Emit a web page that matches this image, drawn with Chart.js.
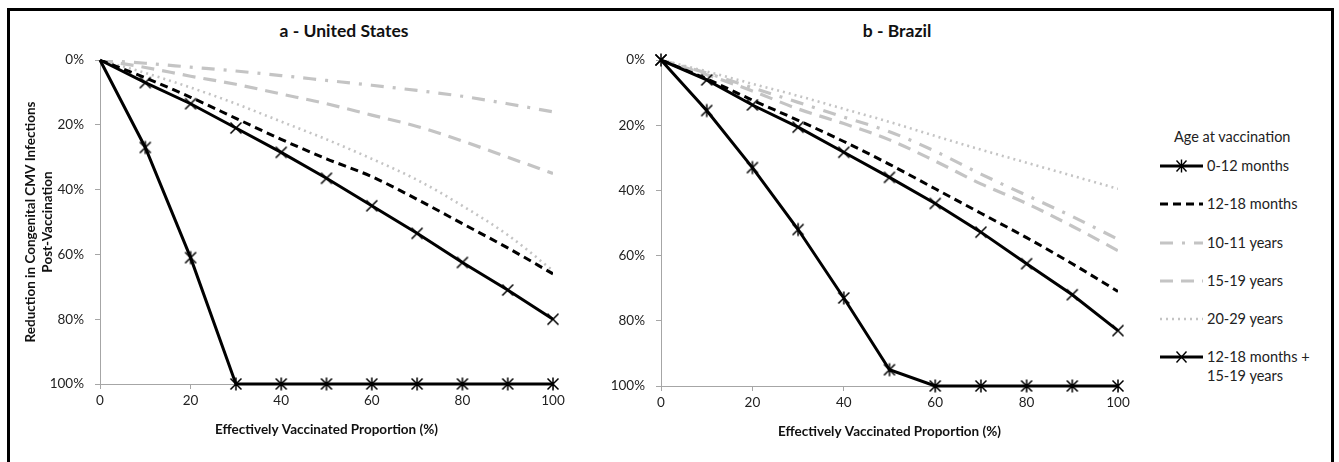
<!DOCTYPE html>
<html>
<head>
<meta charset="utf-8">
<script src="https://cdn.jsdelivr.net/npm/chart.js@4.4.1/dist/chart.umd.min.js"></script>
<style>
  body { margin: 0; background: #fff; font-family: Lato, "Open Sans", sans-serif; }
  #page { position: relative; width: 1339px; height: 462px; overflow: hidden; }
  #frame { position: absolute; left: 7px; top: 8px; width: 1327px; height: 480px; border: 3px solid #000; box-sizing: border-box; }
  .ttl { position: absolute; top: 20px; font-weight: bold; font-size: 17.5px; color: #111; transform: translateX(-50%); white-space: nowrap; }
  canvas { position: absolute; }
  #legend { position: absolute; left: 1160px; top: 128px; font-size: 14.5px; color: #222; }
  .lg-title { position: absolute; left: 14px; top: 0; white-space: nowrap; }
  .lg-item { position: absolute; left: 0; white-space: nowrap; height: 20px; }
  .lg-item svg { position: absolute; left: 0; top: 0; }
  .lg-item span { position: absolute; left: 47px; top: 0px; line-height: 19px; }
</style>
</head>
<body>
<div id="page">
  <div id="frame"></div>
  <div class="ttl" style="left:344px">a - United States</div>
  <div class="ttl" style="left:897px">b - Brazil</div>
  <canvas id="chartUS" width="568" height="438" style="left:12px;top:12px"></canvas>
  <canvas id="chartBR" width="540" height="438" style="left:600px;top:12px"></canvas>
  <div id="legend"></div>
</div>
<script>
let proportion = [0, 10, 20, 30, 40, 50, 60, 70, 80, 90, 100]
let xTicks = [0, 20, 40, 60, 80, 100]
let yTicks = [0, 20, 40, 60, 80, 100]

let seriesNames = ['0-12 months', '12-18 months', '10-11 years', '15-19 years', '20-29 years', '12-18 months + 15-19 years']

// United States, % reduction
let us0to12 = [0, 27, 61, 100, 100, 100, 100, 100, 100, 100, 100]
let us12to18 = [0, 5.5, 11.5, 18, 24.5, 30.5, 36, 43, 50.5, 58, 66]
let us10to11 = [0, 1, 2.2, 3.4, 4.8, 6.3, 7.8, 9.4, 11.2, 13.5, 16]
let us15to19 = [0, 2.3, 5, 7.5, 10.5, 13.5, 17, 20.5, 25, 30, 35]
let us20to29 = [0, 4, 8.5, 13.5, 19, 24.5, 30.5, 37, 45, 54, 65]
let usCombo = [0, 7, 13.5, 21, 28.5, 36.5, 45, 53.5, 62.5, 71, 80]

// Brazil, % reduction
let br0to12 = [0, 15.5, 33, 52, 73, 95, 100, 100, 100, 100, 100]
let br12to18 = [0, 5.8, 12.3, 18.5, 25, 32, 39.5, 47, 54.5, 62.5, 71]
let br10to11 = [0, 4, 8.5, 13, 17.5, 22, 28, 35, 41.5, 48, 55]
let br15to19 = [0, 4.5, 9.5, 15, 19.5, 24.5, 31, 38, 44, 51, 58.5]
let br20to29 = [0, 3.5, 7.3, 11, 15, 19, 23.3, 27.5, 31.5, 35.5, 39.5]
let brCombo = [0, 6.1, 13.8, 20.6, 28.3, 36, 44, 52.8, 62.5, 72, 83]

const GREY = '#c4c4c4'
const AXIS = '#a6a6a6'
const FONT = 'Lato, "Open Sans", sans-serif'

function makeMarker(star) {
    let c = document.createElement('canvas')
    c.width = 16
    c.height = 16
    let g = c.getContext('2d')
    g.strokeStyle = '#000'
    g.lineWidth = 1.5
    g.beginPath()
    g.moveTo(2.5, 2.5); g.lineTo(13.5, 13.5)
    g.moveTo(13.5, 2.5); g.lineTo(2.5, 13.5)
    if (star) { g.moveTo(8, 1.5); g.lineTo(8, 14.5) }
    g.stroke()
    return c
}
const starMark = makeMarker(true)
const xMark = makeMarker(false)

function pts(arr) {
    return arr.map((v, i) => ({x: proportion[i], y: v}))
}

function buildDatasets(d, markOrigin) {
    let rad = ctx => (ctx.dataIndex === 0 && !markOrigin) ? 0 : 5
    return [
        { label: seriesNames[0], data: pts(d[0]), borderColor: '#000', borderWidth: 3, pointStyle: starMark, pointRadius: rad, tension: 0, clip: 10 },
        { label: seriesNames[5], data: pts(d[5]), borderColor: '#000', borderWidth: 3, pointStyle: xMark, pointRadius: rad, tension: 0, clip: 10 },
        { label: seriesNames[1], data: pts(d[1]), borderColor: '#000', borderWidth: 3, borderDash: [8, 5], pointRadius: 0, cubicInterpolationMode: 'monotone' },
        { label: seriesNames[2], data: pts(d[2]), borderColor: GREY, borderWidth: 3.2, borderDash: [13, 9, 3, 9], pointRadius: 0, cubicInterpolationMode: 'monotone' },
        { label: seriesNames[3], data: pts(d[3]), borderColor: GREY, borderWidth: 3.2, borderDash: [13, 8], pointRadius: 0, cubicInterpolationMode: 'monotone' },
        { label: seriesNames[4], data: pts(d[4]), borderColor: GREY, borderWidth: 2.6, borderDash: [2, 4], pointRadius: 0, cubicInterpolationMode: 'monotone' }
    ]
}

function createChart(id, data, opts) {
    let ctx = document.getElementById(id).getContext('2d')
    return new Chart(ctx, {
        type: 'line',
        data: { datasets: buildDatasets(data, opts.markOrigin) },
        options: {
            responsive: false,
            animation: false,
            layout: { padding: { top: 48, right: opts.padRight, bottom: 0, left: 0 } },
            plugins: { legend: { display: false }, title: { display: false }, tooltip: { enabled: false } },
            scales: {
                x: {
                    type: 'linear', min: 0, max: 100,
                    afterBuildTicks: s => { s.ticks = xTicks.map(v => ({value: v})) },
                    afterFit: s => { s.height = opts.xHeight },
                    grid: { display: true, drawOnChartArea: false, drawTicks: true, tickLength: 5, color: AXIS },
                    border: { display: true, color: AXIS, width: 1 },
                    ticks: { color: '#222', font: { family: FONT, size: 13.5 }, padding: 4, maxRotation: 0 },
                    title: { display: true, text: 'Effectively Vaccinated Proportion (%)', color: '#111',
                             font: { family: FONT, size: 13.5, weight: 'bold' }, padding: { top: 0, bottom: opts.xTitlePad } }
                },
                y: {
                    type: 'linear', min: 0, max: 100, reverse: true,
                    afterBuildTicks: s => { s.ticks = yTicks.map(v => ({value: v})) },
                    afterFit: s => { s.width = opts.yWidth },
                    grid: { display: true, drawOnChartArea: false, drawTicks: true, tickLength: 5, color: AXIS },
                    border: { display: true, color: AXIS, width: 1 },
                    ticks: { color: '#222', font: { family: FONT, size: 13.5 }, padding: 11, callback: v => v + '%' },
                    title: { display: opts.yTitle, text: ['Reduction in Congenital CMV Infections', 'Post-Vaccination'], color: '#111',
                             font: { family: FONT, size: 13.5, weight: 'bold', lineHeight: 1.2 }, padding: { top: 11, bottom: 0 } }
                }
            }
        }
    })
}

createChart('chartUS', [us0to12, us12to18, us10to11, us15to19, us20to29, usCombo],
    { markOrigin: false, padRight: 27, xHeight: 66, yWidth: 88, yTitle: true, xTitlePad: 12 })
createChart('chartBR', [br0to12, br12to18, br10to11, br15to19, br20to29, brCombo],
    { markOrigin: true, padRight: 22, xHeight: 64, yWidth: 61, yTitle: false, xTitlePad: 10 })

// legend
let legendStyles = [
    { color: '#000', w: 3, dash: '', mark: 'star' },
    { color: '#000', w: 3.2, dash: '8 5', mark: '' },
    { color: GREY, w: 3.2, dash: '13 9 3 9', mark: '' },
    { color: GREY, w: 3.2, dash: '13 8', mark: '' },
    { color: GREY, w: 2.6, dash: '2 4', mark: '' },
    { color: '#000', w: 3, dash: '', mark: 'x' }
]
let legendTops = [38, 76, 115, 153, 191, 229]
let lg = document.getElementById('legend')
lg.innerHTML = '<div class="lg-title">Age at vaccination</div>'
legendStyles.forEach((s, k) => {
    let m = ''
    if (s.mark) {
        m = '<path d="M16.5 4.5 L26.5 15.5 M26.5 4.5 L16.5 15.5' + (s.mark === 'star' ? ' M21.5 3.5 L21.5 16.5' : '') + '" stroke="#000" stroke-width="1.4" fill="none"/>'
    }
    let label = k === 5 ? '12-18 months +<br>15-19 years' : seriesNames[k]
    lg.innerHTML += '<div class="lg-item" style="top:' + (legendTops[k] - 10) + 'px">' +
        '<svg width="44" height="20"><line x1="0" y1="10" x2="43" y2="10" stroke="' + s.color + '" stroke-width="' + s.w + '"' +
        (s.dash ? ' stroke-dasharray="' + s.dash + '"' : '') + '/>' + m + '</svg><span>' + label + '</span></div>'
})
</script>
</body>
</html>
